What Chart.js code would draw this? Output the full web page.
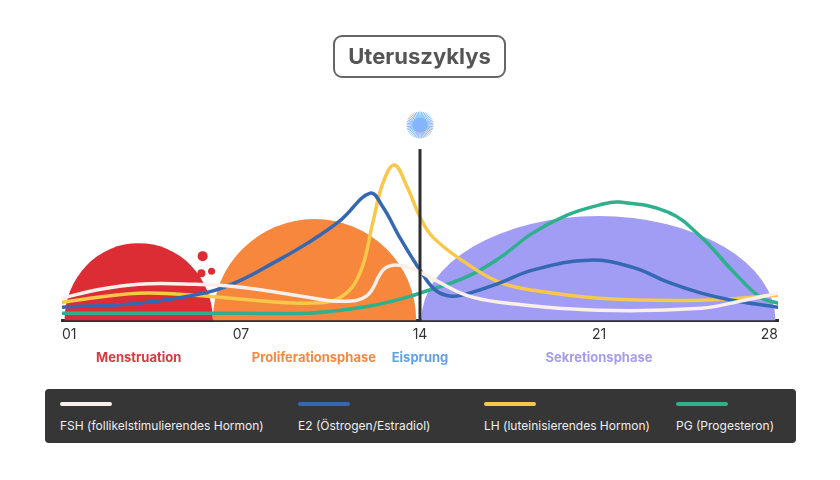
<!DOCTYPE html>
<html lang="de">
<head>
<meta charset="UTF-8">
<title>Uteruszyklys</title>
<script src="https://cdn.jsdelivr.net/npm/chart.js"></script>
<style>
  body { margin: 0; background: #fff; font-family: Inter, "Noto Sans", sans-serif; }
  #wrap { position: relative; width: 840px; height: 480px; overflow: hidden; }
  #chart { position: absolute; left: 0; top: 0; }
  .title {
    position: absolute; left: 333px; top: 35px; width: 173px; height: 43px;
    box-sizing: border-box; border: 2.5px solid #666; border-radius: 9px;
    text-align: center; line-height: 38px; font-size: 22px; font-weight: 700; color: #555;
  }
  .legend {
    position: absolute; left: 45px; top: 389px; width: 751px; height: 54px;
    background: #363636; border-radius: 4px;
  }
  .item { position: absolute; top: 0; color: #eee; font-size: 12px; }
  .swatch { position: absolute; top: 13px; left: 0; width: 52px; height: 4px; border-radius: 2px; }
  .label { position: absolute; top: 29px; left: 0; white-space: nowrap; }
</style>
</head>
<body>
<div id="wrap">
  <canvas id="chart" width="840" height="480"></canvas>
  <div class="title">Uteruszyklys</div>
  <div class="legend" id="legend"></div>
</div>

<script>
  // Tage des Zyklus (x-Achse 0..28), Beschriftung
  const dayTicks = [0, 7, 14, 21, 28];
  const dayLabels = ["01", "07", "14", "21", "28"];

  // Hormonverläufe [Tag, Wert]
  const fshPoints = [[0, 22], [1.5, 31], [3, 36], [5, 36], [7, 33], [9.6, 23], [10.9, 19], [11.9, 24],
    [12.55, 50], [12.95, 55], [13.5, 53], [14, 48], [14.6, 40], [15.8, 25], [17.1, 18], [21, 10],
    [25, 12], [26.7, 20], [28, 27]];
  const e2Points = [[0, 13], [3, 17], [5.7, 28], [7, 40], [8.25, 57], [9.6, 77], [10.9, 100],
    [12.05, 127], [12.55, 113], [13.2, 83], [14, 50], [14.6, 30], [15.2, 24], [15.8, 26],
    [17.1, 37], [18.4, 50], [20.6, 60], [22.3, 53], [23.7, 38], [25, 27], [26.2, 20], [28, 13]];
  const lhPoints = [[0, 18], [3, 27], [5.7, 24], [7, 21], [9.6, 17], [10.9, 23], [11.65, 47],
    [12.15, 97], [12.55, 137], [13.0, 155], [13.5, 133], [14, 103], [14.5, 83], [15.8, 57],
    [17.1, 38], [18.4, 30], [21, 22], [25, 20], [28, 25]];
  const pgPoints = [[0, 7], [3, 7], [7, 7], [9.6, 7], [10.9, 10], [12.2, 15], [13.5, 23], [14, 27],
    [15.8, 43], [17.1, 62], [18.4, 87], [19.75, 105], [21, 115], [21.8, 118], [23.7, 108],
    [25, 83], [26.2, 50], [27.3, 23], [28, 17]];

  const seriesNames = ["FSH (follikelstimulierendes Hormon)", "E2 (Östrogen/Estradiol)",
    "LH (luteinisierendes Hormon)", "PG (Progesteron)"];
  const seriesColors = ["#fbefec", "#3568b2", "#f8c84a", "#2cb18c"];
  const seriesPoints = [fshPoints, e2Points, lhPoints, pgPoints];

  // Phasen (Halbkreise): Start, Ende, Höhe
  const phaseNames = ["Menstruation", "Proliferationsphase", "Eisprung", "Sekretionsphase"];
  const phaseLabelDays = [3, 9.85, 14, 21];
  const phaseLabelColors = ["#d93a3f", "#f38a43", "#62a0ea", "#a49ef0"];
  const phaseStart = [0.1, 5.9, null, 14.05];
  const phaseEnd = [5.9, 13.85, null, 27.9];
  const phaseHeight = [77, 101, null, 104];
  const phaseColors = ["#dc2d34", "#f7873c", null, "#a19cf4"];

  // Blutstropfen neben der Menstruation [Tag, Wert, Radius]
  const dropPoints = [[5.5, 64, 5], [5.45, 47, 4], [5.85, 49, 3.5]];

  const ovulationDay = 14;
  const ovulationTop = 171;
  const sunLevel = 195;

  const phasePlugin = {
    id: "phases",
    beforeDatasetsDraw(chart) {
      const { ctx, scales: { x, y } } = chart;
      ctx.save();
      phaseStart.forEach((s, i) => {
        if (s === null) return;
        const x0 = x.getPixelForValue(s);
        const x1 = x.getPixelForValue(phaseEnd[i]);
        const yb = y.getPixelForValue(0);
        const yt = y.getPixelForValue(phaseHeight[i]);
        ctx.beginPath();
        ctx.ellipse((x0 + x1) / 2, yb, (x1 - x0) / 2, yb - yt, 0, Math.PI, 2 * Math.PI);
        ctx.closePath();
        ctx.fillStyle = phaseColors[i];
        ctx.fill();
      });
      ctx.restore();
    },
    afterDatasetsDraw(chart) {
      const { ctx, scales: { x, y } } = chart;
      const xp = x.getPixelForValue(ovulationDay);
      ctx.save();
      // Eisprung-Linie
      ctx.strokeStyle = "#2e2e2e";
      ctx.lineWidth = 3;
      ctx.beginPath();
      ctx.moveTo(xp, y.getPixelForValue(ovulationTop));
      ctx.lineTo(xp, y.getPixelForValue(0));
      ctx.stroke();
      // Sonne / Eizelle
      const cy = y.getPixelForValue(sunLevel);
      ctx.strokeStyle = "rgba(110,165,245,0.8)";
      ctx.lineWidth = 1;
      for (let k = 0; k < 48; k++) {
        const a = (k / 48) * Math.PI * 2;
        ctx.beginPath();
        ctx.moveTo(xp + Math.cos(a) * 3, cy + Math.sin(a) * 3);
        ctx.lineTo(xp + Math.cos(a) * 13.5, cy + Math.sin(a) * 13.5);
        ctx.stroke();
      }
      ctx.beginPath();
      ctx.arc(xp, cy, 7.5, 0, Math.PI * 2);
      ctx.fillStyle = "#82b5f9";
      ctx.fill();
      ctx.restore();
    },
    afterDraw(chart) {
      const { ctx, chartArea, scales: { x } } = chart;
      ctx.save();
      ctx.font = "700 13px Inter, 'Noto Sans', sans-serif";
      ctx.textAlign = "center";
      ctx.textBaseline = "middle";
      phaseNames.forEach((name, i) => {
        ctx.fillStyle = phaseLabelColors[i];
        ctx.fillText(name, x.getPixelForValue(phaseLabelDays[i]), chartArea.bottom + 38);
      });
      ctx.restore();
    },
  };

  const lineSets = seriesNames.map((name, i) => ({
    label: name,
    data: seriesPoints[i].map((p) => ({ x: p[0], y: p[1] })),
    borderColor: seriesColors[i],
    borderWidth: 3.5,
    pointRadius: 0,
    tension: 0.4,
    borderCapStyle: "round",
    borderJoinStyle: "round",
    fill: false,
  }));

  const dropSet = {
    type: "scatter",
    label: "drops",
    data: dropPoints.map((p) => ({ x: p[0], y: p[1] })),
    pointRadius: dropPoints.map((p) => p[2]),
    pointBackgroundColor: "#dc2d34",
    pointBorderWidth: 0,
    order: 10,
  };

  const ctx = document.getElementById("chart").getContext("2d");
  const chart = new Chart(ctx, {
    type: "line",
    data: { datasets: [dropSet, ...lineSets] },
    options: {
      responsive: false,
      animation: false,
      layout: { padding: { left: 62, right: 62, top: 110, bottom: 131 } },
      plugins: { legend: { display: false }, tooltip: { enabled: false } },
      scales: {
        x: {
          type: "linear",
          min: 0,
          max: 28,
          grid: { display: false, drawTicks: false },
          border: { color: "#2e2e2e", width: 3 },
          afterBuildTicks: (axis) => {
            axis.ticks = dayTicks.map((v) => ({ value: v }));
          },
          ticks: {
            align: "inner",
            padding: 6,
            color: "#333",
            font: { family: "Inter, 'Noto Sans', sans-serif", size: 14 },
            callback: (value) => dayLabels[dayTicks.indexOf(value)],
          },
        },
        y: { display: false, min: 0, max: 210 },
      },
    },
    plugins: [phasePlugin],
  });

  // Legende
  const legend = document.getElementById("legend");
  const legendLeft = [15, 253, 439, 631];
  seriesNames.forEach((name, i) => {
    const item = document.createElement("div");
    item.className = "item";
    item.style.left = legendLeft[i] + "px";
    item.innerHTML = '<div class="swatch" style="background:' + seriesColors[i] + '"></div>' +
      '<div class="label">' + name + "</div>";
    legend.appendChild(item);
  });
</script>
</body>
</html>
